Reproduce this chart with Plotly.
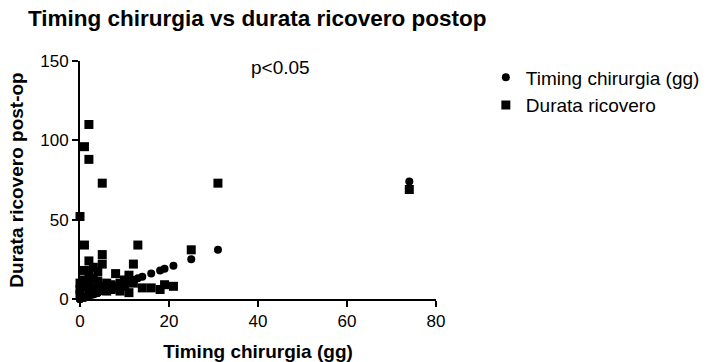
import plotly.graph_objects as go

# Data
timing = [0, 0, 0, 0, 1, 1, 1, 1, 1, 2, 2, 2, 2, 2, 2, 3, 3, 3, 3, 4, 4, 4,
          5, 5, 5, 5, 6, 6, 7, 7, 8, 8, 9, 9, 10, 10, 11, 11, 12, 12, 13,
          14, 16, 18, 19, 21, 25, 31, 74]
durata = [52, 10, 6, 3, 96, 34, 18, 12, 8, 110, 88, 24, 15, 9, 5, 20, 13, 7, 4, 17, 11, 6,
          73, 28, 22, 8, 10, 5, 9, 6, 16, 7, 10, 5, 12, 8, 15, 4, 22, 10, 34,
          7, 7, 6, 9, 8, 31, 73, 69]
series_names = ["Timing chirurgia (gg)", "Durata ricovero"]
x_ticks = [0, 20, 40, 60, 80]
y_ticks = [0, 50, 100, 150]

FONT = "Liberation Sans, Arial, sans-serif"

fig = go.Figure()
fig.add_trace(go.Scatter(
    x=timing, y=timing, mode="markers", name=series_names[0],
    marker=dict(symbol="circle", size=8, color="black"), cliponaxis=False))
fig.add_trace(go.Scatter(
    x=timing, y=durata, mode="markers", name=series_names[1],
    marker=dict(symbol="square", size=9, color="black"), cliponaxis=False))

fig.update_layout(
    width=713, height=362,
    margin=dict(l=80, r=277, t=61, b=63, autoexpand=False),
    plot_bgcolor="white", paper_bgcolor="white",
    font=dict(family=FONT, color="black"),
    title=dict(text="<b>Timing chirurgia vs durata ricovero postop</b>",
               x=28 / 713, xanchor="left", y=1 - 18 / 362, yanchor="middle",
               font=dict(size=22.5, family=FONT, color="black")),
    showlegend=True,
    legend=dict(x=1.14, xanchor="left", y=1.011, yanchor="top",
                font=dict(size=19, family=FONT, color="black"),
                itemsizing="trace", traceorder="normal",
                bgcolor="rgba(0,0,0,0)"),
    xaxis=dict(range=[0, 80], tickvals=x_ticks, showgrid=False, zeroline=False,
               automargin=False,
               showline=True, linecolor="black", linewidth=2,
               ticks="outside", ticklen=6, tickwidth=2, tickcolor="black",
               tickfont=dict(size=17, family=FONT, color="black"),
               tickprefix="<b>", ticksuffix="</b>",
               title=dict(text="<b>Timing chirurgia (gg)</b>", standoff=16,
                          font=dict(size=19, family=FONT, color="black"))),
    yaxis=dict(range=[0, 150], tickvals=y_ticks, showgrid=False, zeroline=False,
               automargin=False,
               showline=True, linecolor="black", linewidth=2,
               ticks="outside", ticklen=6, tickwidth=2, tickcolor="black",
               tickfont=dict(size=17, family=FONT, color="black"),
               tickprefix="<b>", ticksuffix="</b>",
               title=dict(text="<b>Durata ricovero post-op</b>", standoff=12,
                          font=dict(size=19, family=FONT, color="black"))),
    annotations=[dict(x=45, y=146, xref="x", yref="y", text="p<0.05", showarrow=False,
                      font=dict(size=19, family=FONT, color="black"))],
)

fig.write_html("out.html", config={"displayModeBar": False},
               post_script="document.body.style.margin='0';")
